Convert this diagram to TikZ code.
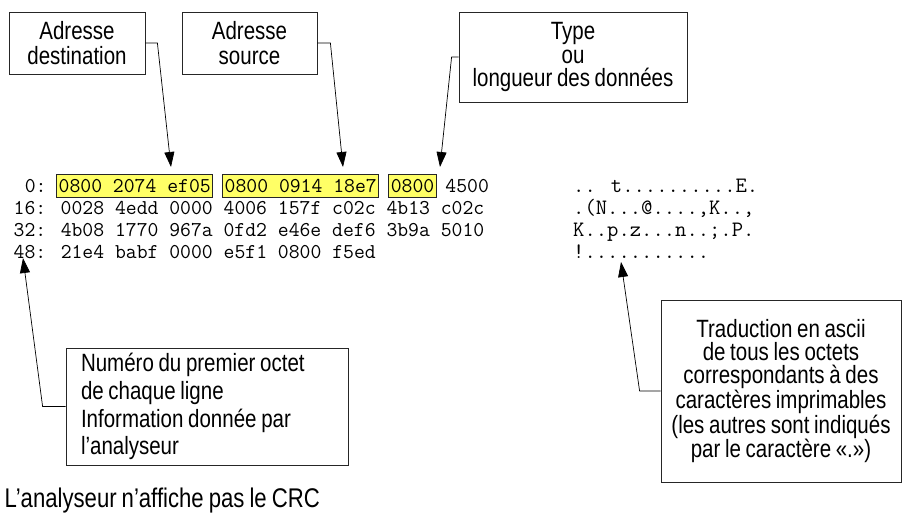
\documentclass[tikz,border=0pt]{standalone}
\usepackage{fontspec}
\setmainfont{Liberation Sans}[FakeStretch=0.82,WordSpace=0.82]
\usetikzlibrary{arrows.meta}
\definecolor{hlyellow}{RGB}{255,255,102}
\begin{document}
\begin{tikzpicture}[x=1pt,y=-1pt,
  box/.style={draw=black!85, line width=0.8pt, align=center, inner sep=0pt},
  arr/.style={line width=0.7pt, -{Triangle[length=15pt,width=10pt]}},
  hex/.style={font=\fontsize{21.09}{22}\ttfamily, inner sep=0pt, anchor=base west},
  asc/.style={font=\fontsize{22.0}{22}\ttfamily, inner sep=0pt, anchor=base west},
  hl/.style={hex, draw=black!85, fill=hlyellow, line width=0.8pt, inner xsep=2pt, inner ysep=0pt, text height=18pt, text depth=5pt}]
\useasboundingbox (0,0) rectangle (906,519);
% callout boxes
\node[box, minimum width=136pt, minimum height=62pt, font=\fontsize{25}{25}\selectfont] (adst) at (77,43) {Adresse\\destination};
\node[box, minimum width=135pt, minimum height=62pt, font=\fontsize{25}{25}\selectfont] (asrc) at (249.5,43) {Adresse\\source};
\node[box, minimum width=228pt, minimum height=90pt, font=\fontsize{25}{23.4}\selectfont] (atype) at (573,57) {Type\\ou\\longueur des données};
\node[box, text width=252pt, inner xsep=15pt, minimum height=117pt, align=flush left, font=\fontsize{25}{27.8}\selectfont] (anum) at (207,406.5) {Numéro du premier octet\\de chaque ligne\\Information donnée par\\l’analyseur};
\node[box, minimum width=240pt, minimum height=182pt, font=\fontsize{25}{23.4}\selectfont] (atrad) at (781,391) {Traduction en ascii\\de tous les octets\\correspondants à des\\caractères imprimables\\(les autres sont indiqués\\par le caractère «.»)};
% hex dump
\node[hex] (r0a) at ({13.5+1*11.07},192) {0:};
\node[hl] (dst) at ({13.5+4*11.07-1.5},192) {0800 2074 ef05};
\node[hl] (src) at ({13.5+19*11.07-1.5},192) {0800 0914 18e7};
\node[hl] (typ) at ({13.5+34*11.07-1.5},192) {0800};
\node[hex] (r0b) at ({13.5+39*11.07},192) {4500};
\node[hex] (r1) at (13.5,214) {16: 0028 4edd 0000 4006 157f c02c 4b13 c02c};
\node[hex] (r2) at (13.5,236) {32: 4b08 1770 967a 0fd2 e46e def6 3b9a 5010};
\node[hex] (r3) at (13.5,258) {48: 21e4 babf 0000 e5f1 0800 f5ed};
% ascii
\node[asc] (a0) at (573,192) {.. t..........E.};
\node[asc] (a1) at (573,214) {.(N...@....,K..,};
\node[asc] (a2) at (573,236) {K..p.z...n..;.P.};
\node[asc] (a3) at (573,258) {!...........};
% arrows
\coordinate (tA) at (171,167);
\coordinate (tB) at (343,167);
\coordinate (tC) at (440,167);
\coordinate (tD) at (23,258);
\coordinate (tE) at (621,262);
\draw[arr] (adst.east) -- ++(12,0) -- (tA);
\draw[arr] (asrc.east) -- ++(13,0) -- (tB);
\draw[arr] (atype.west) -- ++(-7,0) -- (tC);
\draw[arr] (anum.west) -- ++(-23,0) -- (tD);
\draw[arr] (atrad.west) -- ++(-21,0) -- (tE);
% note
\node[anchor=base west, inner sep=0pt, font=\fontsize{27}{27}\selectfont] (crc) at (4.5,507) {L’analyseur n’affiche pas le CRC};
\end{tikzpicture}
\end{document}
